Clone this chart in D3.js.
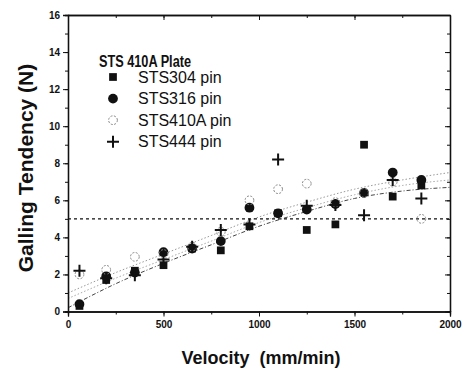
<!DOCTYPE html>
<html>
<head>
<meta charset="utf-8">
<script src="https://cdn.jsdelivr.net/npm/d3@7"></script>
<style>
  body { margin: 0; background: #fff; }
  text { font-family: "Liberation Sans", Arial, sans-serif; }
</style>
</head>
<body>
<div id="chart"></div>
<script>
// velocities (mm/min)
let velocity = [60, 200, 350, 500, 650, 800, 950, 1100, 1250, 1400, 1550, 1700, 1850]
// galling tendency (N) per pin
let sts304 = [0.3, 1.7, 2.2, 2.5, 3.4, 3.3, 4.6, 5.3, 4.4, 4.7, 9.0, 6.2, 6.8]
let sts316 = [0.4, 1.9, 2.1, 3.2, 3.4, 3.8, 5.6, 5.3, 5.5, 5.8, 6.4, 7.5, 7.1]
let sts410a = [2.0, 2.25, 2.95, 3.1, 3.5, 4.3, 6.0, 6.6, 6.9, 5.9, 6.4, 7.0, 5.0]
let sts444 = [2.2, 1.8, 1.95, 2.8, 3.5, 4.4, 4.7, 8.2, 5.7, 5.75, 5.2, 7.1, 6.1]

// fit curves
let fitX = [0, 250, 500, 750, 1000, 1250, 1500, 1750, 2000]
let fitLow = [0.2, 1.5, 2.6, 3.6, 4.6, 5.4, 6.1, 6.5, 6.7]
let fitMid = [0.7, 1.8, 2.8, 3.8, 4.8, 5.6, 6.3, 6.8, 7.1]
let fitHigh = [1.0, 2.1, 3.1, 4.1, 5.1, 5.9, 6.6, 7.1, 7.5]
let threshold = 5

let xTicks = [0, 500, 1000, 1500, 2000]
let yTicks = [0, 2, 4, 6, 8, 10, 12, 14, 16]

let W = 466, H = 368
let mLeft = 68, mRight = 450, mTop = 15, mBottom = 311.5

let svg = d3.select('#chart').append('svg').attr('width', W).attr('height', H)

let x = d3.scaleLinear().domain([0, 2000]).range([mLeft, mRight])
let y = d3.scaleLinear().domain([0, 16]).range([mBottom, mTop])

// fit curves
let fitLine = d3.line().x((d, i) => x(fitX[i])).y(d => y(d)).curve(d3.curveMonotoneX)
svg.append('path').attr('d', fitLine(fitHigh)).attr('fill', 'none')
    .attr('stroke', '#999').attr('stroke-width', 1).attr('stroke-dasharray', '1.5,2')
svg.append('path').attr('d', fitLine(fitMid)).attr('fill', 'none')
    .attr('stroke', '#aaa').attr('stroke-width', 1).attr('stroke-dasharray', '1.5,2')
svg.append('path').attr('d', fitLine(fitLow)).attr('fill', 'none')
    .attr('stroke', '#444').attr('stroke-width', 1).attr('stroke-dasharray', '4,2,1,2')

// 5 N threshold line
svg.append('line').attr('x1', x(0)).attr('x2', x(2000))
    .attr('y1', y(threshold)).attr('y2', y(threshold))
    .attr('stroke', '#111').attr('stroke-width', 1.3).attr('stroke-dasharray', '3,3')

// axes
let fmt = d3.format('d')
let xMinor = d3.range(0, 2001, 250)
let yMinor = d3.range(0, 17, 1)
svg.append('g').attr('transform', `translate(0,${mBottom})`)
    .call(d3.axisBottom(x).tickValues(xMinor).tickSize(3).tickFormat(''))
svg.append('g').attr('transform', `translate(0,${mBottom})`)
    .call(d3.axisBottom(x).tickValues(xTicks).tickSize(5).tickPadding(4).tickFormat(fmt))
svg.append('g').attr('transform', `translate(${mLeft},0)`)
    .call(d3.axisLeft(y).tickValues(yMinor).tickSize(3).tickFormat(''))
svg.append('g').attr('transform', `translate(${mLeft},0)`)
    .call(d3.axisLeft(y).tickValues(yTicks).tickSize(5).tickPadding(3).tickFormat(fmt))
svg.append('g').attr('transform', `translate(0,${mTop})`)
    .call(d3.axisBottom(x).tickValues(xMinor).tickSizeInner(3).tickSizeOuter(0).tickFormat(''))
svg.append('g').attr('transform', `translate(0,${mTop})`)
    .call(d3.axisBottom(x).tickValues(xTicks).tickSizeInner(5).tickSizeOuter(0).tickFormat(''))
svg.append('g').attr('transform', `translate(${mRight},0)`)
    .call(d3.axisLeft(y).tickValues(yMinor).tickSizeInner(3).tickSizeOuter(0).tickFormat(''))
svg.append('g').attr('transform', `translate(${mRight},0)`)
    .call(d3.axisLeft(y).tickValues(yTicks).tickSizeInner(5).tickSizeOuter(0).tickFormat(''))
svg.selectAll('.domain').attr('stroke', '#111').attr('stroke-width', 1.3)
svg.selectAll('.tick line').attr('stroke', '#111').attr('stroke-width', 1)
svg.selectAll('.tick text').attr('font-size', 10).attr('font-weight', 'bold')
    .attr('fill', '#111').style('font-family', '"Liberation Sans", Arial, sans-serif')

// markers
let sym = {
    square: d3.symbol().type(d3.symbolSquare).size(60),
    circle: d3.symbol().type(d3.symbolCircle).size(75),
    open: d3.symbol().type(d3.symbolCircle).size(60),
    plus: d3.symbol().type(d3.symbolCross).size(100)
}
let series = [
    { name: 'STS304 pin', vals: sts304, shape: 'square' },
    { name: 'STS316 pin', vals: sts316, shape: 'circle' },
    { name: 'STS410A pin', vals: sts410a, shape: 'open' },
    { name: 'STS444 pin', vals: sts444, shape: 'plus' }
]

let styleMark = (sel, shape) => {
    if (shape === 'open') {
        sel.attr('fill', 'none').attr('stroke', '#888').attr('stroke-width', 1)
            .attr('stroke-dasharray', '2,1.5')
    } else if (shape === 'plus') {
        sel.attr('d', 'M-6,0H6M0,-6V6').attr('fill', 'none')
            .attr('stroke', '#111').attr('stroke-width', 2)
    } else {
        sel.attr('fill', '#111')
    }
}

series.forEach(s => {
    let g = svg.append('g')
    g.selectAll('path').data(s.vals).enter().append('path')
        .attr('transform', (d, i) => `translate(${x(velocity[i])},${y(d)})`)
        .attr('d', sym[s.shape]())
        .call(styleMark, s.shape)
})

// legend
svg.append('text').attr('x', 99).attr('y', 67).attr('font-size', 16)
    .attr('font-weight', 'bold').attr('fill', '#111')
    .attr('textLength', 92).attr('lengthAdjust', 'spacingAndGlyphs').text('STS 410A Plate')
series.forEach((s, i) => {
    let yy = 77 + i * 21.6
    svg.append('path').attr('transform', `translate(113,${yy})`)
        .attr('d', sym[s.shape]()).call(styleMark, s.shape)
    svg.append('text').attr('x', 138).attr('y', yy + 5.5).attr('font-size', 16)
        .attr('fill', '#111').text(s.name)
})

// axis titles
svg.append('text').attr('x', 261).attr('y', 364).attr('text-anchor', 'middle')
    .attr('font-size', 18).attr('font-weight', 'bold').attr('fill', '#111')
    .attr('xml:space', 'preserve').text('Velocity  (mm/min)')
svg.append('text').attr('transform', 'translate(33,168) rotate(-90)')
    .attr('text-anchor', 'middle').attr('font-size', 21).attr('font-weight', 'bold')
    .attr('fill', '#111').text('Galling Tendency (N)')
</script>
</body>
</html>
